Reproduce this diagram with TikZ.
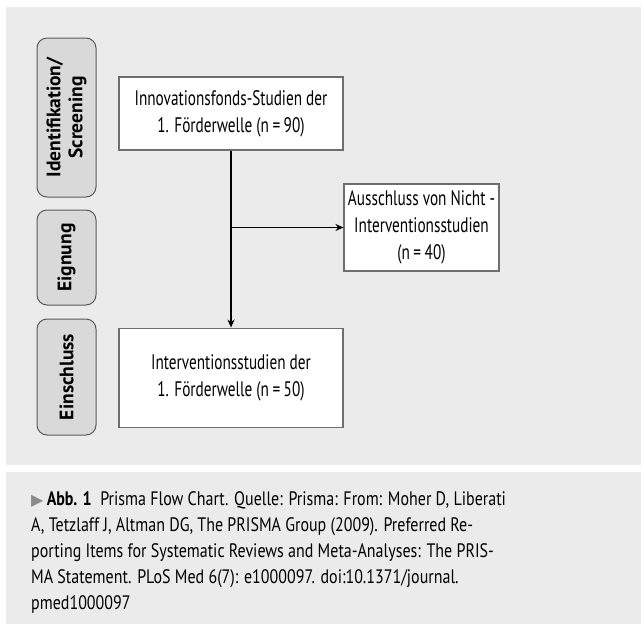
\documentclass[tikz,border=0pt]{standalone}
\usepackage{fontspec}
\setmainfont{PT Sans}
\newfontfamily\boxfont{PT Sans}[FakeStretch=0.727]
\newfontfamily\captionfont{PT Sans}[FakeStretch=0.82]
\newfontfamily\symfont{DejaVu Sans}
\usetikzlibrary{arrows.meta, positioning}
\definecolor{panelgray}{HTML}{EBEBEC}
\definecolor{phasegray}{HTML}{D9D9D9}
\definecolor{phaseline}{HTML}{5A5A5A}
\definecolor{boxline}{HTML}{6E6E6E}
\definecolor{markgray}{HTML}{8C8C8C}

\begin{document}
\begin{tikzpicture}[
    x=1pt, y=-1pt,
    node distance=177pt,
    every node/.style={font=\boxfont\fontsize{21}{27}\selectfont},
    box/.style={draw=boxline, fill=white, line width=1.1pt, align=center, inner sep=0pt},
    phase/.style={draw=phaseline, fill=phasegray, rounded corners=10pt, rotate=90, minimum height=59pt,
                  align=center, inner sep=0pt, line width=1pt, font=\bfseries\fontsize{19.5}{22}\selectfont},
    flow/.style={line width=1.4pt, -{Stealth[length=8pt, width=7pt]}}
]
   \useasboundingbox (0,0) rectangle (641,627);

   % Panels
   \fill[panelgray] (6,7) rectangle (641,465);
   \fill[panelgray] (6,472) rectangle (641,624);

   % Phases
   \node[phase, minimum width=159pt] (ident) at (66.5,117.5) {Identifikation/\\Screening};
   \node[phase, minimum width=95pt] (eign) at (66.5,257.5) {Eignung};
   \node[phase, minimum width=116pt] (einschl) at (66.5,377) {Einschluss};

   % Boxes
   \node[box, minimum width=224pt, minimum height=73pt] (fonds) at (231,113.5)
      {Innovationsfonds-Studien der\\1. F\"orderwelle (n\,=\,90)};
   \node[box, minimum width=224pt, minimum height=99pt] (interv) [below=of fonds]
      {Interventionsstudien der\\1. F\"orderwelle (n\,=\,50)};
   \node[box, minimum width=155pt, minimum height=87pt] (ausschl) at (421.5,227.5)
      {Ausschluss von Nicht -\\Interventionsstudien\\(n\,=\,40)};

   % Connectors
   \coordinate (split) at (fonds.south |- ausschl.west);
   \draw[flow] (fonds) -- (interv);
   \draw[flow] (split) -- (ausschl);

   % Caption
   \node[anchor=north west, align=left, inner sep=0pt, font=\captionfont\fontsize{19.5}{26}\selectfont] (caption) at (31,491)
      {{\color{markgray}\symfont\fontsize{16}{16}\selectfont ▶}\,\textbf{Abb. 1}\ \ Prisma Flow Chart. Quelle: Prisma: From: Moher D, Liberati\\
       A, Tetzlaff J, Altman DG, The PRISMA Group (2009). Preferred Re-\\
       porting Items for Systematic Reviews and Meta-Analyses: The PRIS-\\
       MA Statement. PLoS Med 6(7): e1000097. doi:10.1371/journal.\\
       pmed1000097};
\end{tikzpicture}
\end{document}
